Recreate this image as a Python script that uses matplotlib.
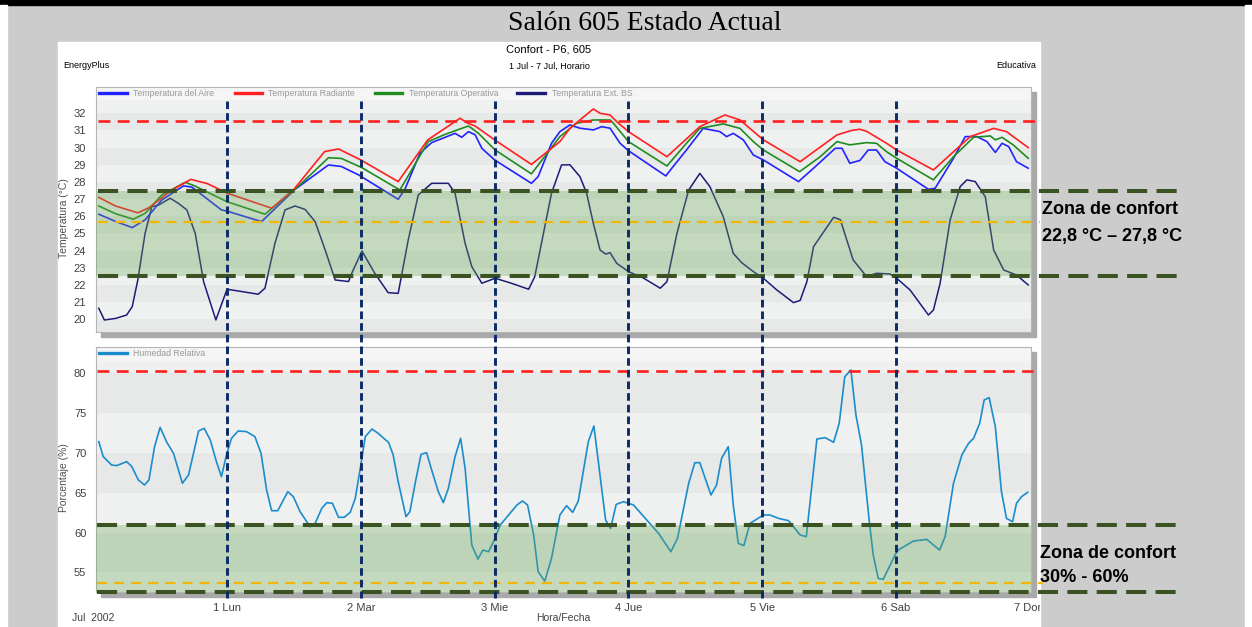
import matplotlib
matplotlib.use("Agg")
import matplotlib.pyplot as plt
from matplotlib.patches import Rectangle
from matplotlib.lines import Line2D
from matplotlib.transforms import blended_transform_factory

plt.rcParams['font.family'] = ['Liberation Sans', 'DejaVu Sans']

# ---------------- data (hours since 30 Jun 00:00) ----------------
hours_rad = [1, 4, 8, 10, 14, 17.5, 20.5, 24, 32, 36, 41.5, 44, 48, 54.7, 60, 65.8, 67, 68.5,
             72, 78.6, 83.7, 85.5, 87.3, 89.7, 90.9, 92.7, 93.9, 96, 102.9, 108.8, 113.3, 116,
             120.2, 126.8, 133.4, 136, 137.5, 138.7, 142.3, 144.1, 150.7, 157.3, 161.5, 163.8, 167.7]
temp_rad = [27.1, 26.6, 26.2, 26.5, 27.5, 28.15, 27.9, 27.35, 26.47, 27.57, 29.77, 29.92, 29.28, 28.02, 30.45, 31.71, 31.45, 31.26,
            30.45, 29.02, 30.35, 31.12, 31.61, 32.25, 32.0, 31.9, 31.51, 30.93, 29.47, 31.22, 31.9, 31.61,
            30.45, 29.18, 30.74, 31.0, 31.07, 30.95, 30.25, 29.86, 28.7, 30.64, 31.12, 30.93, 30.0]

hours_aire = [1, 4, 7, 9.3, 12.3, 16.2, 17.7, 23, 24, 30.2, 36.2, 42.2, 44.5, 47.6, 54.7, 55.9, 58.6, 60.7,
              64.9, 66.1, 67.3, 68.5, 69.7, 72, 78.6, 79.8, 82.2, 83.7, 85.5, 87.3, 89.7, 91.2, 92.7, 94.5,
              96, 102.7, 104, 106.4, 109.4, 112.4, 113.6, 114.8, 116.6, 118.4, 120.2, 126.5, 129.2, 133.1,
              134.3, 135.7, 137.5, 139, 140.5, 142, 144.1, 149.8, 151, 154.3, 156.4, 158.5, 160.3, 161.8,
              163, 164.2, 165.6, 167.7]
temp_aire = [26.12, 25.7, 25.34, 25.79, 26.95, 27.77, 27.7, 26.37, 26.3, 25.69, 27.57, 28.99, 28.9, 28.41, 26.99, 27.57, 29.67, 30.29,
             30.83, 30.6, 30.93, 30.75, 29.96, 29.28, 27.92, 28.31, 30.25, 30.93, 31.32, 31.13, 31.03, 31.22, 31.13, 30.25,
             29.82, 28.35, 28.89, 29.86, 31.12, 30.93, 30.64, 30.83, 30.45, 29.57, 29.28, 28.02, 28.8, 29.96,
             29.96, 29.09, 29.25, 29.86, 29.86, 29.18, 28.8, 27.57, 27.63, 29.38, 30.64, 30.64, 30.35, 29.72,
             30.25, 30.06, 29.18, 28.8]

hours_oper = [1, 4, 7.2, 9.3, 12.3, 16.5, 18.2, 24, 30.8, 36.2, 42.2, 44.5, 48.2, 55, 60.1, 63.1, 67.3, 69.1,
              72.1, 78.6, 83.7, 86.7, 89.7, 92.7, 93.3, 96, 102.9, 106.4, 108.8, 113, 116, 118.4, 120.2,
              126.7, 130.4, 133.4, 135.7, 138.7, 140.5, 142.3, 144.1, 150.7, 154.3, 157.9, 160.9, 161.8,
              163, 165, 167.7]
temp_oper = [26.6, 26.15, 25.83, 26.17, 27.24, 27.98, 27.77, 26.85, 26.12, 27.57, 29.41, 29.37, 28.83, 27.53, 30.35, 30.77, 31.26, 30.83,
             29.86, 28.47, 30.64, 31.42, 31.61, 31.61, 31.42, 30.35, 28.93, 30.25, 31.12, 31.38, 31.12, 30.35, 29.86,
             28.6, 29.47, 30.35, 30.16, 30.29, 30.25, 29.76, 29.38, 28.12, 29.47, 30.6, 30.68, 30.45,
             30.6, 30.16, 29.38]

hours_ext = [1, 2, 4, 6, 7, 8, 9.3, 10.5, 11.7, 13.8, 15.3, 16.8, 18.3, 19.8, 22, 24, 26, 29.6, 30.8,
             32.6, 34.4, 36.2, 38, 39.8, 41.6, 43.4, 45.8, 46.4, 48.2, 50.5, 52.9, 54.7, 56.5, 58.3, 60.7,
             63.7, 64.9, 66.7, 67.9, 69.7, 72.1, 75, 78.1, 79.2, 80.4, 82.2, 84, 85.5, 87.3, 88.5, 89.7,
             90.9, 91.9, 92.7, 93.9, 96, 98.7, 101.7, 102.9, 104.7, 106.8, 108.8, 110.6, 113, 114.8, 116.3,
             118.4, 120.2, 122.6, 125.6, 126.8, 128, 129.2, 132.8, 134, 136.3, 138.7, 140.5, 142.9, 144.1,
             146.5, 149.8, 150.7, 151.9, 153.7, 155.5, 156.7, 158.2, 160, 161.5, 163.3, 165.6, 167.7]
temp_ext = [20.64, 19.96, 20.05, 20.25, 20.74, 22.29, 25.0, 26.56, 26.65, 27.05, 26.75, 26.37, 25.0, 22.19, 19.96, 21.75, 21.65, 21.46, 21.81,
            24.43, 26.37, 26.6, 26.4, 25.69, 24.04, 22.29, 22.2, 22.7, 23.98, 22.68, 21.55, 21.51, 24.62, 27.24, 27.92,
            27.92, 27.34, 24.43, 23.07, 22.1, 22.39, 22.1, 21.75, 22.49, 24.43, 27.34, 28.99, 29.0, 28.31, 27.34, 25.59,
            24.04, 23.8, 23.88, 23.26, 22.78, 22.4, 21.81, 22.19, 25.01, 27.53, 28.5, 27.73, 25.98, 23.84, 23.3,
            22.78, 22.39, 21.71, 20.97, 21.1, 22.19, 24.23, 25.94, 25.8, 23.46, 22.49, 22.68, 22.64, 22.39,
            21.71, 20.25, 20.54, 22.1, 25.79, 27.73, 28.12, 28.02, 27.14, 24.04, 22.87, 22.58, 22.0]

hours_hum = [1, 1.8, 3.3, 4.2, 6, 6.9, 8.1, 9.2, 10, 11, 12, 13.2, 14.4, 16, 17.1, 18.9, 19.9, 21, 22.1, 23,
             23.9, 24.8, 26, 27.5, 29, 30.1, 31.1, 32, 33.1, 34.9, 35.9, 37.1, 38.9, 39.8, 41, 41.9, 42.9, 44,
             45, 46.1, 47, 47.9, 48.8, 50, 51.1, 53, 53.8, 54.7, 56.1, 56.8, 57.8, 58.8, 59.8, 60.7, 61.9, 62.8,
             63.7, 64.9, 65.9, 66.7, 67.9, 69, 69.9, 70.9, 71.8, 73, 74.5, 76, 77, 77.9, 79, 79.8, 81, 82.2,
             83.7, 84.9, 86, 87, 88.8, 89.8, 90.9, 91.9, 92.8, 93.8, 95.1, 96.9, 99.3, 101.4, 103.6, 104.8,
             106.8, 107.9, 108.8, 110.8, 111.8, 112.7, 113.9, 114.8, 115.7, 116.7, 117.8, 120.2, 121.4, 122.9,
             124.7, 126.8, 127.9, 129.8, 131.3, 132.8, 133.8, 134.8, 135.9, 136.8, 137.8, 139.2, 139.9, 140.8,
             141.7, 143.8, 144.4, 147.1, 149.5, 151.8, 152.8, 154.3, 155.8, 157, 157.9, 159, 159.8, 160.7,
             161.8, 162.9, 163.8, 164.9, 165.6, 166.5, 167.6]
hum_rel = [71.41, 69.53, 68.48, 68.4, 68.9, 68.3, 66.6, 65.97, 66.6, 70.78, 73.2, 71.33, 69.95, 66.18, 67.23, 72.75, 73.09, 71.62, 68.9, 67.02,
           69.74, 71.83, 72.75, 72.67, 72.04, 69.95, 65.34, 62.74, 62.74, 65.13, 64.5, 62.62, 60.73, 61.15, 63.04, 63.75, 63.67, 61.91,
           61.91, 62.53, 64.29, 68.06, 72.04, 73.0, 72.46, 71.29, 69.74, 66.39, 61.99, 62.62, 66.39, 69.82, 70.03, 67.85, 65.13, 63.75,
           65.55, 69.53, 71.83, 68.06, 58.43, 56.67, 57.8, 57.59, 58.85, 60.94, 62.2, 63.46, 63.96, 63.46, 59.69, 55.08, 53.91, 56.76,
           62.2, 63.37, 62.53, 63.96, 71.41, 73.38, 67.22, 61.57, 60.52, 63.54, 63.87, 63.46, 61.57, 59.9, 57.59, 59.27,
           66.18, 68.77, 68.77, 64.71, 65.97, 69.32, 70.78, 63.46, 58.64, 58.35, 61.15, 62.2, 62.2, 61.78,
           61.49, 59.69, 59.48, 71.75, 71.91, 71.33, 73.72, 79.58, 80.42, 74.76, 70.99, 61.36, 57.17, 54.24,
           54.12, 57.17, 57.8, 58.93, 59.14, 57.8, 59.48, 66.18, 69.74, 71.2, 71.83, 73.72, 76.65, 76.94,
           73.3, 65.13, 61.78, 61.36, 63.67, 64.5, 65.05]

day_ticks = [24, 48, 72, 96, 120, 144, 168]
day_labels = ['1 Lun', '2 Mar', '3 Mie', '4 Jue', '5 Vie', '6 Sab', '7 Dom']
day_lines = [24, 48, 72, 96, 120, 144]

temp_ticks = list(range(20, 33))
hum_ticks = [55, 60, 65, 70, 75, 80]

temp_confort = [22.5, 27.5]
temp_media = 25.65
temp_max = 31.53
hum_confort = [52.5, 60.9]
hum_media = 53.6
hum_max = 80.3

for a, b in [(hours_rad, temp_rad), (hours_aire, temp_aire), (hours_oper, temp_oper),
             (hours_ext, temp_ext), (hours_hum, hum_rel)]:
    assert len(a) == len(b), (len(a), len(b))

# ---------------- layout ----------------
W, H = 1252, 627
fig = plt.figure(figsize=(W / 100, H / 100), dpi=100)
fig.patch.set_facecolor('#cccccc')


def rect(x0, y0, x1, y1, **kw):
    r = Rectangle((x0 / W, 1 - y1 / H), (x1 - x0) / W, (y1 - y0) / H,
                  transform=fig.transFigure, **kw)
    fig.add_artist(r)
    return r


rect(0, 0, W, 5, color='black', zorder=-6)
rect(0, 5, 7, H, color='white', zorder=-6)
rect(1245, 5, W, H, color='white', zorder=-6)
panel = rect(58, 42, 1040, H, color='white', zorder=-5)
rect(101, 92, 1036, 337, color='#a9a9a9', zorder=-3)
rect(101, 352, 1036, 597, color='#a9a9a9', zorder=-3)

ax1 = fig.add_axes([96 / W, 1 - 332 / H, 935 / W, 245 / H])
ax2 = fig.add_axes([96 / W, 1 - 592 / H, 935 / W, 245 / H])

XL = (0.5, 168.2)
light, dark = '#eff0f0', '#e7e8e8'

GREEN = '#3b5323'
RED = '#ff1f1f'
YEL = '#f2b600'
NAVY = '#0b2a66'

for ax in (ax1, ax2):
    ax.set_xlim(*XL)
    for s in ax.spines.values():
        s.set_color('#b5b5b5')
        s.set_linewidth(0.8)
    ax.set_facecolor('#f5f5f5')

# top axes
ax1.set_ylim(19.26, 33.53)
for k in range(19, 33):
    ax1.axhspan(k, min(k + 1, 32.78), color=dark if k % 2 == 1 else light, lw=0, zorder=0)
ax1.plot(hours_ext, temp_ext, color='#1c1c78', lw=1.1, zorder=2)
ax1.plot(hours_aire, temp_aire, color='#2323ff', lw=1.2, zorder=2)
ax1.plot(hours_oper, temp_oper, color='#1f8c1f', lw=1.2, zorder=2)
ax1.plot(hours_rad, temp_rad, color='#ff2020', lw=1.2, zorder=2)
ax1.axhspan(temp_confort[0], temp_confort[1], color='#6aaa55', alpha=0.32, lw=0, zorder=3)
ax1.plot([0.9, 169.3], [temp_max] * 2, color=RED, lw=1.9, dashes=(4.5, 2.8), zorder=4, clip_on=False)
ax1.plot([0.9, 169.8], [temp_media] * 2, color=YEL, lw=1.6, dashes=(4.5, 3.2), zorder=4, clip_on=False)
for v in temp_confort:
    ax1.plot([0.9, 195.5], [v, v], color=GREEN, lw=2.9, dashes=(5, 2.3), zorder=4, clip_on=False)
ax1.set_yticks(temp_ticks)
ax1.set_xticks(day_ticks)
ax1.tick_params(axis='y', length=0, pad=7, labelsize=8, labelcolor='#404040')
ax1.tick_params(axis='x', length=0, labelbottom=False)
ax1.set_ylabel('Temperatura (°C)', fontsize=7.5, color='#505050')
ax1.yaxis.set_label_coords(-0.029, 0.465)

# bottom axes
ax2.set_ylim(52.53, 83.3)
bands = [(50, 55, light), (55, 60, dark), (60, 65, light), (65, 70, dark), (70, 75, light), (75, 80, dark), (80, 81.6, light)]
for lo, hi, c in bands:
    ax2.axhspan(lo, hi, color=c, lw=0, zorder=0)
ax2.plot(hours_hum, hum_rel, color='#1b8ccc', lw=1.2, zorder=2)
ax2.axhspan(hum_confort[0], hum_confort[1], color='#6aaa55', alpha=0.32, lw=0, zorder=3)
ax2.plot([0.7, 168.6], [hum_max] * 2, color=RED, lw=1.9, dashes=(4.5, 2.8), zorder=4, clip_on=False)
ax2.plot([0.7, 170.4], [hum_media] * 2, color=YEL, lw=1.6, dashes=(4.5, 3.2), zorder=4, clip_on=False)
for v in hum_confort:
    ax2.plot([0.7, 195.5], [v, v], color=GREEN, lw=2.9, dashes=(5, 2.3), zorder=4, clip_on=False)
ax2.set_yticks(hum_ticks)
ax2.set_xticks(day_ticks, day_labels)
ax2.tick_params(axis='y', length=0, pad=7, labelsize=8, labelcolor='#404040')
ax2.tick_params(axis='x', length=0, pad=8, labelsize=8, labelcolor='#404040')
ax2.set_ylabel('Porcentaje (%)', fontsize=7.5, color='#505050')
ax2.yaxis.set_label_coords(-0.029, 0.469)
ax2.set_xlabel('Hora/Fecha', fontsize=7.5, color='#404040')
ax2.xaxis.set_label_coords(0.5, -0.085)
for lbl in ax2.get_xticklabels():
    lbl.set_clip_path(panel)

# vertical day separators across both panels
tr = blended_transform_factory(ax1.transData, fig.transFigure)
for d in day_lines:
    fig.add_artist(Line2D([d, d], [1 - 101 / H, 1 - 598 / H], transform=tr, color=NAVY,
                          lw=2.1, dashes=(2.6, 1.4), zorder=5))

# legends (manual, as in the original)
leg_top = [('#2323ff', 'Temperatura del Aire', 99, 127, 133),
           ('#ff2020', 'Temperatura Radiante', 235, 262, 268),
           ('#1f8c1f', 'Temperatura Operativa', 375, 402, 409),
           ('#1c1c78', 'Temperatura Ext. BS', 517, 545, 552)]
for c, t, x0, x1, xt in leg_top:
    fig.add_artist(Line2D([x0 / W, x1 / W], [1 - 93.3 / H] * 2, transform=fig.transFigure, color=c, lw=2.4, zorder=5))
    fig.text(xt / W, 1 - 93.3 / H, t, fontsize=6.3, color='#9a9a9a', va='center', ha='left', zorder=5)
fig.add_artist(Line2D([99 / W, 127 / W], [1 - 353.3 / H] * 2, transform=fig.transFigure, color='#1b8ccc', lw=2.4, zorder=5))
fig.text(133 / W, 1 - 353.3 / H, 'Humedad Relativa', fontsize=6.3, color='#9a9a9a', va='center', ha='left', zorder=5)

# header texts
fig.text(645 / W, 1 - 24 / H, 'Salón 605 Estado Actual', family=['Liberation Serif', 'DejaVu Serif'],
         fontsize=20, ha='center', va='center')
fig.text(549 / W, 1 - 50 / H, 'Confort - P6, 605', fontsize=8, ha='center', va='center')
fig.text(549 / W, 1 - 66 / H, '1 Jul - 7 Jul, Horario', fontsize=6.5, ha='center', va='center')
fig.text(63 / W, 1 - 66 / H, 'EnergyPlus', fontsize=6.5, ha='left', va='center')
fig.text(1036 / W, 1 - 66 / H, 'Educativa', fontsize=6.5, ha='right', va='center')
fig.text(72 / W, 1 - 618 / H, 'Jul  2002', fontsize=7.5, color='#404040', ha='left', va='center')

# comfort annotations
fig.text(1042 / W, 1 - 210 / H, 'Zona de confort', fontsize=13, weight='bold', ha='left', va='center')
fig.text(1042 / W, 1 - 237 / H, '22,8 °C – 27,8 °C', fontsize=13, weight='bold', ha='left', va='center')
fig.text(1040 / W, 1 - 553 / H, 'Zona de confort', fontsize=13, weight='bold', ha='left', va='center')
fig.text(1040 / W, 1 - 578 / H, '30% - 60%', fontsize=13, weight='bold', ha='left', va='center')

fig.savefig('out.png', dpi=100, facecolor=fig.get_facecolor())
